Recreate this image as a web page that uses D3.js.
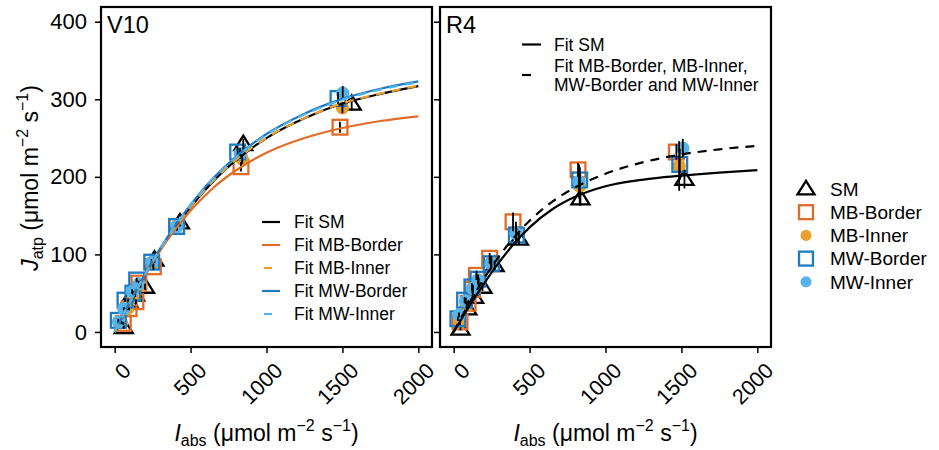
<!DOCTYPE html>
<html>
<head>
<meta charset="utf-8">
<script src="https://cdn.jsdelivr.net/npm/d3@7"></script>
<style>
  html, body { margin: 0; padding: 0; background: #fff; }
  svg { display: block; }
  text { font-family: "Liberation Sans", Arial, Helvetica, sans-serif; fill: #000; }
</style>
</head>
<body>
<script>
// ---------- data ----------
const seriesNames = ["SM", "MB-Border", "MB-Inner", "MW-Border", "MW-Inner"];
const xTicks = [0, 500, 1000, 1500, 2000];
const yTicks = [0, 100, 200, 300, 400];

// V10: absorbed irradiance, electron transport and standard error per series
const v10_I_SM = [60, 90, 135, 200, 262, 430, 847, 1561];
const v10_J_SM = [6, 40, 48, 58, 93, 141, 242, 294];
const v10_E_SM = [2, 3, 3, 4, 4, 5, 7, 8];
const v10_I_MBB = [57, 95, 140, 160, 255, 408, 832, 1484];
const v10_J_MBB = [11, 30, 39, 63, 84, 136, 213, 264];
const v10_E_MBB = [2, 2, 3, 3, 4, 5, 6, 7];
const v10_I_MBI = [45, 85, 125, 170, 250, 410, 840, 1500];
const v10_J_MBI = [12, 30, 45, 60, 88, 137, 223, 289];
const v10_E_MBI = [2, 2, 3, 3, 4, 5, 6, 7];
const v10_I_MWB = [24, 68, 120, 145, 244, 408, 810, 1471];
const v10_J_MWB = [15, 41, 50, 67, 90, 136, 232, 301];
const v10_E_MWB = [2, 2, 3, 3, 4, 5, 7, 8];
const v10_I_MWI = [25, 60, 115, 160, 245, 410, 826, 1502];
const v10_J_MWI = [13, 30, 52, 62, 90, 136, 230, 308];
const v10_E_MWI = [2, 2, 3, 3, 4, 5, 7, 9];

// R4
const r4_I_SM = [45, 90, 135, 190, 270, 430, 835, 1520];
const r4_J_SM = [4, 30, 45, 58, 86, 120, 172, 197];
const r4_E_SM = [2, 3, 4, 5, 6, 8, 9, 12];
const r4_I_MBB = [42, 95, 125, 150, 237, 391, 819, 1467];
const r4_J_MBB = [13, 37, 55, 73, 95, 142, 209, 232];
const r4_E_MBB = [3, 4, 5, 6, 7, 12, 9, 10];
const r4_I_MBI = [42, 85, 125, 165, 248, 410, 830, 1485];
const r4_J_MBI = [12, 34, 52, 64, 90, 128, 188, 214];
const r4_E_MBI = [3, 4, 5, 6, 8, 14, 25, 32];
const r4_I_MWB = [28, 72, 120, 160, 248, 413, 830, 1489];
const r4_J_MWB = [17, 41, 58, 68, 88, 125, 196, 216];
const r4_E_MWB = [3, 4, 5, 6, 7, 10, 15, 20];
const r4_I_MWI = [35, 80, 125, 160, 245, 410, 826, 1509];
const r4_J_MWI = [22, 40, 56, 67, 88, 127, 194, 237];
const r4_E_MWI = [3, 4, 5, 6, 7, 10, 22, 12];

// fitted light-response curves, sampled along irradiance
const fitI = [0, 100, 200, 300, 400, 500, 650, 800, 1000, 1250, 1500, 1750, 2000];
const v10_fit_SM  = [0, 38, 73.5, 106, 135, 161, 194.5, 221.5, 250, 275.5, 294.5, 307, 317];
const v10_fit_MBB = [0, 38.4, 73.5, 105, 132.5, 156.5, 186, 208.5, 231, 250, 263, 272, 278];
const v10_fit_MBI = [0, 38, 73.6, 106.2, 135.3, 161.3, 195, 222, 250.3, 275.8, 294.8, 307.3, 317.5];
const v10_fit_MWB = [0, 38.7, 74.7, 107.7, 137.5, 164.2, 198.4, 226.2, 255.2, 281.4, 300.5, 313.6, 323];
const v10_fit_MWI = [0, 38.5, 74.4, 107.3, 137, 163.6, 197.6, 225.3, 254.2, 280.3, 299.5, 312.5, 322];
const r4_fit_SM     = [0, 32.2, 62.4, 90, 114.3, 134.8, 158.2, 174.2, 187.8, 196.5, 201.5, 205.5, 208.6];
const r4_fit_pooled = [0, 36.3, 69, 97.8, 122.5, 143.3, 168, 186.4, 204, 218.9, 228.9, 235.5, 240];

// ---------- styling ----------
const colors = { "SM": "#000000", "MB-Border": "#E06C28", "MB-Inner": "#E8A02C",
                 "MW-Border": "#1C7BC2", "MW-Inner": "#56B4E9" };
const shapes = { "SM": "triangle", "MB-Border": "square", "MB-Inner": "circle",
                 "MW-Border": "square", "MW-Inner": "circle" };

const W = 939, H = 450;
const svg = d3.select("body").append("svg").attr("width", W).attr("height", H);

const panelTop = 7, panelH = 340, panelW = 331;
const panels = [
  { label: "V10", left: 101, showYLabels: true,
    pts: [[v10_I_SM, v10_J_SM, v10_E_SM], [v10_I_MBB, v10_J_MBB, v10_E_MBB], [v10_I_MBI, v10_J_MBI, v10_E_MBI],
          [v10_I_MWB, v10_J_MWB, v10_E_MWB], [v10_I_MWI, v10_J_MWI, v10_E_MWI]],
    fits: [
      { y: v10_fit_SM,  color: colors["SM"],        dash: null },
      { y: v10_fit_MBB, color: colors["MB-Border"], dash: null },
      { y: v10_fit_MBI, color: colors["MB-Inner"],  dash: "9,7" },
      { y: v10_fit_MWB, color: colors["MW-Border"], dash: null },
      { y: v10_fit_MWI, color: colors["MW-Inner"],  dash: "9,7" }
    ] },
  { label: "R4", left: 440, showYLabels: false,
    pts: [[r4_I_SM, r4_J_SM, r4_E_SM], [r4_I_MBB, r4_J_MBB, r4_E_MBB], [r4_I_MBI, r4_J_MBI, r4_E_MBI],
          [r4_I_MWB, r4_J_MWB, r4_E_MWB], [r4_I_MWI, r4_J_MWI, r4_E_MWI]],
    fits: [
      { y: r4_fit_SM,     color: "#000", dash: null },
      { y: r4_fit_pooled, color: "#000", dash: "9,7" }
    ] }
];

const y = d3.scaleLinear().domain([-19.4, 419]).range([panelTop + panelH, panelTop]);

function drawMarker(g, shape, color, cx, cy, size) {
  if (shape === "triangle") {
    const s = size, h = s * 0.8;
    g.append("path")
      .attr("d", `M${cx},${cy - h * 0.6}L${cx + s / 2},${cy + h * 0.4}L${cx - s / 2},${cy + h * 0.4}Z`)
      .attr("fill", "none").attr("stroke", color).attr("stroke-width", 2.3).attr("stroke-linejoin", "miter");
  } else if (shape === "square") {
    const s = size * 0.82;
    g.append("rect").attr("x", cx - s / 2).attr("y", cy - s / 2).attr("width", s).attr("height", s)
      .attr("fill", "none").attr("stroke", color).attr("stroke-width", 2.3);
  } else {
    g.append("circle").attr("cx", cx).attr("cy", cy).attr("r", size * 0.37).attr("fill", color);
  }
}

panels.forEach((p, pi) => {
  const x = d3.scaleLinear().domain([-90, 2090]).range([p.left, p.left + panelW]);
  const g = svg.append("g");
  const clipId = "clip" + pi;
  svg.append("clipPath").attr("id", clipId).append("rect")
    .attr("x", p.left).attr("y", panelTop).attr("width", panelW).attr("height", panelH);

  // points
  const pg = g.append("g").attr("clip-path", `url(#${clipId})`);
  p.pts.forEach((s, si) => {
    const name = seriesNames[si];
    s[0].forEach((iv, k) => drawMarker(pg, shapes[name], colors[name], x(iv), y(s[1][k]), 18));
  });
  // error bars
  p.pts.forEach(s => {
    s[0].forEach((iv, k) => {
      pg.append("line").attr("x1", x(iv)).attr("x2", x(iv))
        .attr("y1", y(s[1][k] - s[2][k])).attr("y2", y(s[1][k] + s[2][k]))
        .attr("stroke", "#000").attr("stroke-width", 1.8);
    });
  });
  // fitted curves
  const line = d3.line().x(d => x(d[0])).y(d => y(d[1])).curve(d3.curveMonotoneX);
  p.fits.forEach(f => {
    pg.append("path").datum(fitI.map((iv, k) => [iv, f.y[k]]))
      .attr("d", line).attr("fill", "none").attr("stroke", f.color).attr("stroke-width", 2.2)
      .attr("stroke-dasharray", f.dash);
  });

  // panel frame
  g.append("rect").attr("x", p.left).attr("y", panelTop).attr("width", panelW).attr("height", panelH)
    .attr("fill", "none").attr("stroke", "#000").attr("stroke-width", 2.2);

  // y axis
  const ya = g.append("g").attr("transform", `translate(${p.left - 1},0)`)
    .call(d3.axisLeft(y).tickValues(yTicks).tickSize(5).tickPadding(8));
  ya.select(".domain").remove();
  ya.selectAll(".tick line").attr("stroke", "#000").attr("stroke-width", 1.5);
  ya.selectAll(".tick text").attr("font-size", 22).attr("font-family", null).attr("fill", "#000")
    .style("display", p.showYLabels ? null : "none");

  // x axis
  const xa = g.append("g").attr("transform", `translate(0,${panelTop + panelH + 1})`)
    .call(d3.axisBottom(x).tickValues(xTicks).tickSize(5).tickFormat(d3.format("d")));
  xa.select(".domain").remove();
  xa.selectAll(".tick line").attr("stroke", "#000").attr("stroke-width", 1.5);
  xa.selectAll(".tick text").attr("font-size", 21.5).attr("font-family", null).attr("fill", "#000")
    .attr("y", 0).attr("dy", "0.72em").attr("text-anchor", "end")
    .attr("transform", "translate(6,13) rotate(-45)");

  // panel label
  g.append("text").attr("x", p.left + 6).attr("y", panelTop + 26).attr("font-size", 23.5).text(p.label);

  // x title
  const xt = g.append("text").attr("x", p.left + panelW / 2).attr("y", 441)
    .attr("text-anchor", "middle").attr("font-size", 23);
  xt.append("tspan").attr("font-style", "italic").text("I");
  xt.append("tspan").attr("font-size", 16).attr("dy", 5).text("abs");
  xt.append("tspan").attr("dy", -5).text(" (μmol m");
  xt.append("tspan").attr("font-size", 16).attr("dy", -10).text("−2");
  xt.append("tspan").attr("dy", 10).text(" s");
  xt.append("tspan").attr("font-size", 16).attr("dy", -10).text("−1");
  xt.append("tspan").attr("dy", 10).text(")");
});

// y title
const yt = svg.append("text").attr("transform", "translate(38,178) rotate(-90)")
  .attr("text-anchor", "middle").attr("font-size", 23);
yt.append("tspan").attr("font-style", "italic").text("J");
yt.append("tspan").attr("font-size", 16).attr("dy", 5).text("atp");
yt.append("tspan").attr("dy", -5).text(" (μmol m");
yt.append("tspan").attr("font-size", 16).attr("dy", -10).text("−2");
yt.append("tspan").attr("dy", 10).text(" s");
yt.append("tspan").attr("font-size", 16).attr("dy", -10).text("−1");
yt.append("tspan").attr("dy", 10).text(")");

// legend inside V10
const fitLegend = ["Fit SM", "Fit MB-Border", "Fit MB-Inner", "Fit MW-Border", "Fit MW-Inner"];
const fitDash = [false, false, true, false, true];
const lg = svg.append("g");
fitLegend.forEach((t, i) => {
  const yy = 222 + i * 23;
  const ln = lg.append("line").attr("y1", yy).attr("y2", yy).attr("stroke", colors[seriesNames[i]]).attr("stroke-width", 2.2);
  if (fitDash[i]) ln.attr("x1", 264).attr("x2", 272);
  else ln.attr("x1", 262).attr("x2", 280);
  lg.append("text").attr("x", 294).attr("y", yy).attr("dy", "0.36em").attr("font-size", 17.5).text(t);
});

// legend inside R4
const rl = svg.append("g");
rl.append("line").attr("x1", 522).attr("x2", 541).attr("y1", 44.5).attr("y2", 44.5).attr("stroke", "#000").attr("stroke-width", 2.2);
rl.append("text").attr("x", 554).attr("y", 44.5).attr("dy", "0.36em").attr("font-size", 17.5).text("Fit SM");
rl.append("line").attr("x1", 522).attr("x2", 531).attr("y1", 75).attr("y2", 75).attr("stroke", "#000").attr("stroke-width", 2.2);
rl.append("text").attr("x", 554).attr("y", 66).attr("dy", "0.36em").attr("font-size", 17.5).text("Fit MB-Border, MB-Inner,");
rl.append("text").attr("x", 554).attr("y", 85).attr("dy", "0.36em").attr("font-size", 17.5).text("MW-Border and MW-Inner");

// shape legend
const sl = svg.append("g");
seriesNames.forEach((n, i) => {
  const yy = 189 + i * 23.2;
  drawMarker(sl, shapes[n], colors[n], 806, yy, shapes[n] === "circle" ? 15 : 17);
  sl.append("text").attr("x", 830).attr("y", yy).attr("dy", "0.36em").attr("font-size", 19).text(n);
});
</script>
</body>
</html>
